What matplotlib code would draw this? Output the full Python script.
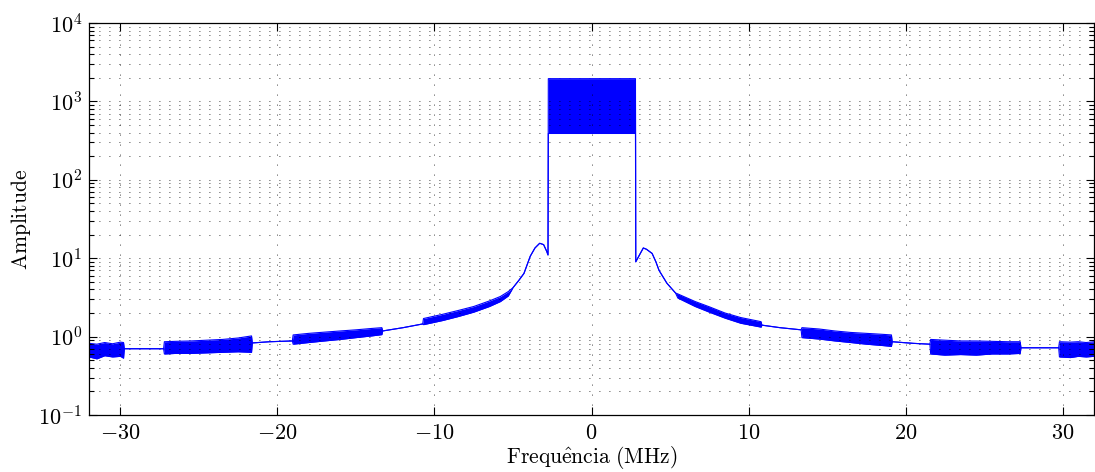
import matplotlib
matplotlib.use('Agg')
import matplotlib.pyplot as plt
from matplotlib.ticker import LogLocator, NullFormatter

plt.rcParams['font.family'] = 'serif'
plt.rcParams['font.serif'] = ['cmr10']
plt.rcParams['mathtext.fontset'] = 'cm'
plt.rcParams['axes.formatter.use_mathtext'] = True

# spectrum: lower / upper envelope of the trace (MHz, amplitude)
# where the trace is clean both envelopes are equal
freq = [-32.0, -31.5, -31.0, -30.5, -30.0, -29.8,
        -29.75, -27.25,
        -27.2, -26.5, -25.5, -24.5, -23.5, -22.5, -21.65,
        -21.6, -20.5, -19.05,
        -19.0, -18.0, -17.0, -16.0, -15.0, -14.0, -13.35,
        -13.3, -12.0, -10.75,
        -10.7, -9.5, -8.5, -7.5, -6.5, -5.8, -5.3,
        -5.0, -4.6, -4.3, -3.9, -3.6, -3.3, -3.05, -2.85, -2.77,
        -2.75, -2.0, -1.0, 0.0, 1.0, 2.0, 2.8,
        2.82, 3.0, 3.3, 3.5, 3.86, 4.1, 4.3, 4.8, 5.35,
        5.5, 6.6, 7.5, 8.5, 9.5, 10.8,
        10.85, 12.0, 13.35,
        13.4, 14.5, 15.5, 16.5, 17.5, 18.5, 19.1,
        19.15, 20.5, 21.55,
        21.6, 22.5, 23.5, 24.5, 25.5, 26.5, 27.3,
        27.35, 29.75,
        29.8, 30.5, 31.0, 31.5, 32.0]

amp_lo = [0.55, 0.52, 0.57, 0.55, 0.56, 0.53,
          0.70, 0.70,
          0.60, 0.61, 0.61, 0.62, 0.63, 0.64, 0.63,
          0.83, 0.86, 0.88,
          0.80, 0.84, 0.88, 0.92, 0.97, 1.02, 1.06,
          1.18, 1.30, 1.45,
          1.42, 1.60, 1.80, 2.05, 2.42, 2.80, 3.30,
          4.2, 5.3, 6.4, 10.6, 13.5, 15.5, 14.9, 12.2, 11.0,
          390, 390, 390, 390, 390, 390, 390,
          9.0, 10.5, 13.5, 13.0, 11.5, 9.0, 7.0, 4.8, 3.6,
          3.10, 2.42, 2.05, 1.72, 1.48, 1.32,
          1.40, 1.30, 1.22,
          0.97, 0.93, 0.88, 0.84, 0.80, 0.77, 0.75,
          0.86, 0.82, 0.80,
          0.60, 0.58, 0.59, 0.58, 0.60, 0.60, 0.61,
          0.72, 0.72,
          0.55, 0.54, 0.56, 0.55, 0.56]

amp_hi = [0.82, 0.80, 0.84, 0.81, 0.85, 0.84,
          0.70, 0.70,
          0.86, 0.87, 0.88, 0.90, 0.92, 0.96, 1.02,
          0.83, 0.86, 0.88,
          1.05, 1.10, 1.14, 1.18, 1.22, 1.27, 1.30,
          1.18, 1.30, 1.45,
          1.70, 1.92, 2.15, 2.42, 2.85, 3.25, 3.75,
          4.2, 5.3, 6.4, 10.6, 13.5, 15.5, 14.9, 12.2, 11.0,
          1950, 1950, 1950, 1950, 1950, 1950, 1950,
          9.0, 10.5, 13.5, 13.0, 11.5, 9.0, 7.0, 4.8, 3.6,
          3.50, 2.80, 2.40, 2.00, 1.75, 1.55,
          1.40, 1.30, 1.22,
          1.30, 1.25, 1.18, 1.13, 1.10, 1.07, 1.05,
          0.86, 0.82, 0.80,
          0.92, 0.90, 0.88, 0.88, 0.87, 0.86, 0.86,
          0.72, 0.72,
          0.86, 0.85, 0.86, 0.84, 0.86]

xticks = [-30, -20, -10, 0, 10, 20, 30]

fig = plt.figure(figsize=(10.95, 4.72), dpi=100)
ax = fig.add_axes([89/1095, 57/472, 1005/1095, 392/472])

blue = '#0000ff'
ax.fill_between(freq, amp_lo, amp_hi, color=blue, lw=0)
ax.plot(freq, amp_lo, color=blue, lw=0.8)
ax.plot(freq, amp_hi, color=blue, lw=0.8)

ax.set_yscale('log')
ax.set_xlim(-32, 32)
ax.set_ylim(1e-1, 1e4)
ax.set_xticks(xticks)
ax.yaxis.set_major_locator(LogLocator(base=10, numticks=10))
ax.yaxis.set_minor_locator(LogLocator(base=10, subs=range(2, 10), numticks=20))
ax.yaxis.set_minor_formatter(NullFormatter())

dots = (0, (1, 11))
ax.grid(True, which='major', axis='both', color='k', lw=0.6, linestyle=dots)
ax.grid(True, which='minor', axis='y', color='k', lw=0.6, linestyle=dots)

ax.tick_params(which='both', direction='in', top=True, right=True, width=0.8)
ax.tick_params(which='major', length=6, labelsize=16)
ax.tick_params(axis='x', which='major', pad=6)
ax.tick_params(axis='y', which='major', pad=5)
ax.tick_params(which='minor', length=3.5)
for s in ax.spines.values():
    s.set_linewidth(0.9)

ax.set_xlabel(r'$\mathrm{Frequ\hat{e}ncia\ (MHz)}$', fontsize=15.5, labelpad=1)
ax.set_ylabel(r'$\mathrm{Amplitude}$', fontsize=15.5, labelpad=4)

fig.savefig('out.png', dpi=100)
